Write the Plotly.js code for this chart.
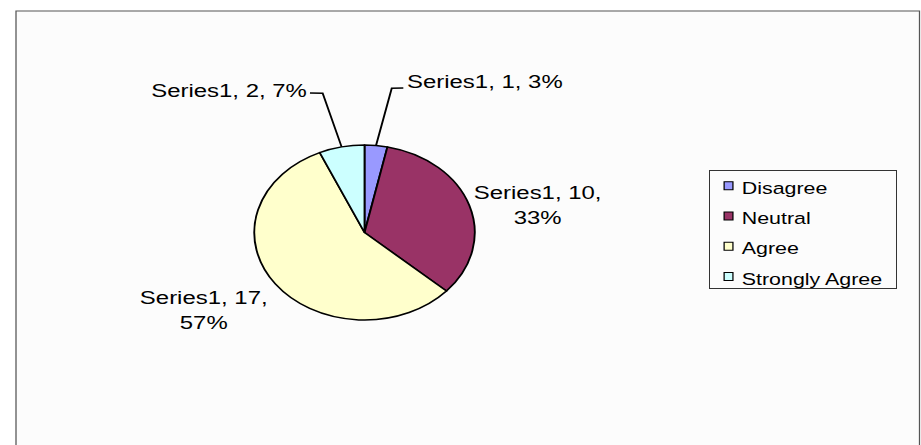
<!DOCTYPE html>
<html>
<head>
<meta charset="utf-8">
<script src="https://cdn.plot.ly/plotly-3.0.1.min.js"></script>
<style>
  html, body { margin: 0; padding: 0; background: #ffffff; overflow: hidden; }
  #chart { width: 731px; height: 445px; transform: scaleX(1.26); transform-origin: 0 0; }
</style>
</head>
<body>
<div id="chart"></div>
<script>
// ---- data ----
const categories = ["Disagree", "Neutral", "Agree", "Strongly Agree"];
const counts = [1, 10, 17, 2];
const percentLabels = ["3%", "33%", "57%", "7%"];
const seriesName = "Series1";
const sliceColors = ["#9999FF", "#993366", "#FFFFCC", "#CCFFFF"];

// ---- geometry (unscaled px; page is stretched horizontally by 1.26 like the original) ----
const SX = 1.26;
const W = 731, H = 445;
const cx = 289.3, cy = 232.5, r = 87.5;
const px = x => x / W;
const py = y => 1 - y / H;

const total = counts.reduce((a, b) => a + b, 0);
const mids = [];
let acc = 0;
counts.forEach(v => { mids.push((acc + v / 2) / total * 2 * Math.PI); acc += v; });
const edge = i => [cx + r * Math.sin(mids[i]), cy - r * Math.cos(mids[i])];

// label placement: x, y, xanchor, leader-line elbow/end (or null)
const labelPos = [
  {x: 320.5, y: 81.5, xa: "left", leader: [[310.9, 88.3], [320.1, 88]]},
  {x: 426.6, y: 205, xa: "center", leader: null},
  {x: 161.4, y: 310, xa: "center", leader: null},
  {x: 245.5, y: 90.5, xa: "right", leader: [[256.1, 93.3], [246, 93]]}
];

const annotations = categories.map((c, i) => {
  const p = labelPos[i];
  const twoLine = p.xa === "center";
  return {
    xref: "paper", yref: "paper", x: px(p.x), y: py(p.y),
    xanchor: p.xa, yanchor: "middle", showarrow: false, align: "center",
    text: seriesName + ", " + counts[i] + "," + (twoLine ? "<br>" : " ") + percentLabels[i],
    font: {family: "Liberation Sans, Arial, sans-serif", size: 19, color: "#000"}
  };
});

const shapes = [{
  type: "rect", xref: "paper", yref: "paper", layer: "below",
  x0: px(16 / SX), x1: px(919.5 / SX), y0: -0.1, y1: py(11),
  line: {color: "#555555", width: 1}, fillcolor: "#fcfcfc"
}];
categories.forEach((c, i) => {
  const p = labelPos[i];
  if (!p.leader) return;
  const pts = [edge(i)].concat(p.leader);
  const d = pts.map((q, k) => (k ? "L" : "M") + px(q[0]) + "," + py(q[1])).join(" ");
  shapes.push({type: "path", xref: "paper", yref: "paper", path: d,
               line: {color: "#000", width: 1.5}});
});

const trace = {
  type: "pie",
  labels: categories.map(c => '<span style="font-size:17px">' + c + '</span>'),
  values: counts,
  sort: false,
  direction: "clockwise",
  rotation: 0,
  textinfo: "none",
  hoverinfo: "label+value+percent",
  marker: {colors: sliceColors, line: {color: "#000000", width: 1.5}},
  domain: {x: [px(cx - r), px(cx + r)], y: [py(cy + r), py(cy - r)]}
};

const layout = {
  width: W, height: H,
  margin: {l: 0, r: 0, t: 0, b: 0},
  paper_bgcolor: "#ffffff",
  showlegend: true,
  legend: {
    x: px(562.7), y: py(164.5), xanchor: "left", yanchor: "top",
    bgcolor: "#fcfcfc", bordercolor: "#333333", borderwidth: 1,
    font: {family: "Liberation Sans, Arial, sans-serif", size: 21, color: "#000"}
  },
  annotations: annotations,
  shapes: shapes
};

const gd = document.getElementById("chart");
Plotly.newPlot(gd, [trace], layout, {displayModeBar: false, staticPlot: true}).then(() => {
  // compact legend geometry to match the original (small swatches, tight text gap)
  const leg = gd.querySelector(".legend");
  if (!leg) return;
  const bg = leg.querySelector("rect.bg");
  if (bg) {
    bg.setAttribute("x", 0.5);
    bg.setAttribute("y", 5.5);
    bg.setAttribute("width", 148.5);
    bg.setAttribute("height", 118.5);
  }
  leg.querySelectorAll(".traces").forEach(t => {
    t.querySelectorAll(".legendpoints path").forEach(p => {
      p.setAttribute("d", "M3.5,4H-3.5V-4H3.5Z");
      p.setAttribute("transform", "translate(14.5,0)");
      p.style.strokeWidth = "1px";
    });
    const tx = t.querySelector(".legendtext");
    if (tx) tx.setAttribute("x", 25);
  });
});
</script>
</body>
</html>
